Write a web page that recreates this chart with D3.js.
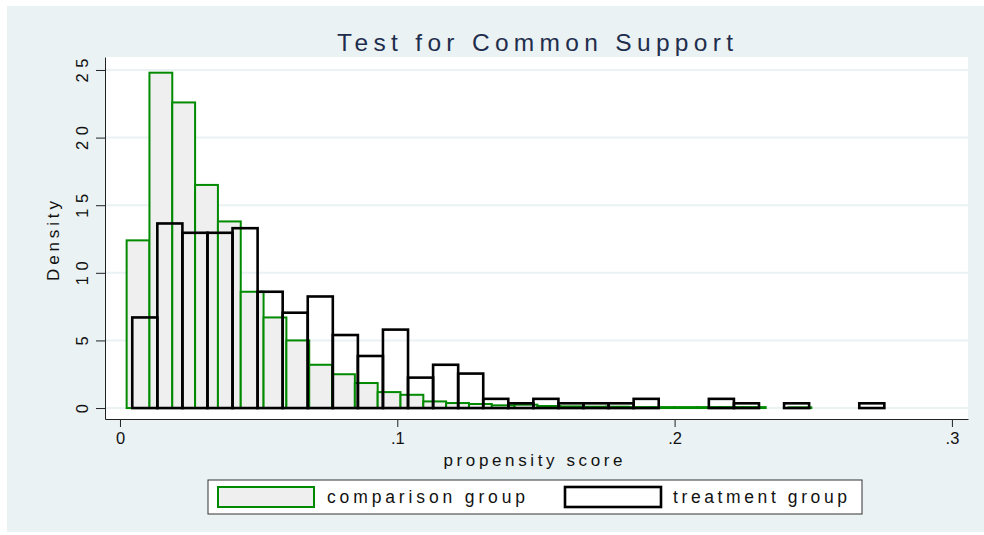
<!DOCTYPE html>
<html>
<head>
<meta charset="utf-8">
<script src="https://cdn.jsdelivr.net/npm/d3@7"></script>
<style>
  body { margin: 0; background: #fff; }
  text { font-family: "Liberation Sans", Arial, sans-serif; }
</style>
</head>
<body>
<svg id="chart" width="984" height="535"></svg>
<script>
// histogram bins (propensity score), densities
var compStart = 0.0024;
var compWidth = 0.00823;
var compDensity = [12.4, 24.8, 22.6, 16.5, 13.8, 8.6, 6.7, 5.0, 3.2, 2.5,
                   1.85, 1.18, 0.98, 0.49, 0.37, 0.3, 0.2, 0.25, 0.15, 0.12,
                   0.1, 0.1, 0.07, 0.07, 0.07, 0.07, 0.07, 0.07, 0, 0.05];

var treatStart = 0.00443;
var treatWidth = 0.00904;
var treatDensity = [6.7, 13.65, 12.96, 12.96, 13.3, 8.6, 7.05, 8.25, 5.4, 3.85,
                    5.8, 2.25, 3.2, 2.55, 0.68, 0.35, 0.68, 0.35, 0.35, 0.35,
                    0.68, 0, 0, 0.68, 0.35, 0, 0.35, 0, 0, 0.35];

var xTicks = [0, 0.1, 0.2, 0.3];
var xTickLabels = ["0", ".1", ".2", ".3"];
var yTicks = [0, 5, 10, 15, 20, 25];

var legendLabels = ["comparison group", "treatment group"];

var plot = {left: 105, right: 968, top: 57, bottom: 419};

var svg = d3.select("#chart");

// outer background
svg.append("rect")
  .attr("x", 7).attr("y", 6)
  .attr("width", 977).attr("height", 526)
  .attr("fill", "#eaf2f3");

svg.append("rect")
  .attr("x", plot.left).attr("y", plot.top)
  .attr("width", plot.right - plot.left)
  .attr("height", plot.bottom - plot.top)
  .attr("fill", "#fff");

var x = d3.scaleLinear().domain([-0.0054, 0.3058]).range([plot.left, plot.right]);
var y = d3.scaleLinear().domain([-0.81, 25.96]).range([plot.bottom, plot.top]);

// grid
svg.append("g").selectAll("line")
  .data(yTicks)
  .enter().append("line")
  .attr("x1", plot.left).attr("x2", plot.right)
  .attr("y1", d => y(d)).attr("y2", d => y(d))
  .attr("stroke", "#eaf2f3")
  .attr("stroke-width", 2);

function bins(start, width, vals) {
  return vals.map((v, i) => ({x0: start + i * width, x1: start + (i + 1) * width, v: v}))
    .filter(d => d.v > 0);
}

// comparison group bars
svg.append("g").selectAll("rect")
  .data(bins(compStart, compWidth, compDensity))
  .enter().append("rect")
  .attr("x", d => x(d.x0))
  .attr("width", d => x(d.x1) - x(d.x0))
  .attr("y", d => y(d.v))
  .attr("height", d => y(0) - y(d.v))
  .attr("fill", "#efefef")
  .attr("stroke", "#008a00")
  .attr("stroke-width", 2);

// treatment group bars
svg.append("g").selectAll("rect")
  .data(bins(treatStart, treatWidth, treatDensity))
  .enter().append("rect")
  .attr("x", d => x(d.x0))
  .attr("width", d => x(d.x1) - x(d.x0))
  .attr("y", d => y(d.v))
  .attr("height", d => y(0) - y(d.v))
  .attr("fill", "none")
  .attr("stroke", "#000")
  .attr("stroke-width", 2.6);

// axes
var xAxis = d3.axisBottom(x)
  .tickValues(xTicks)
  .tickFormat((d, i) => xTickLabels[i])
  .tickSize(8)
  .tickSizeOuter(0)
  .tickPadding(5);

var gx = svg.append("g")
  .attr("transform", "translate(0," + plot.bottom + ")")
  .call(xAxis);
gx.select(".domain").attr("stroke", "#222");
gx.selectAll(".tick line").attr("stroke", "#222");
gx.selectAll(".tick text")
  .attr("font-size", 16.5)
  .attr("fill", "#111")
  .attr("dy", "0.71em");

var yAxis = d3.axisLeft(y)
  .tickValues(yTicks)
  .tickSize(9)
  .tickSizeOuter(0)
  .tickFormat(d3.format("d"));

var gy = svg.append("g")
  .attr("transform", "translate(" + plot.left + ",0)")
  .call(yAxis);
gy.select(".domain").attr("stroke", "#222");
gy.selectAll(".tick line").attr("stroke", "#222");
gy.selectAll(".tick text").remove();
gy.selectAll(".tick").append("text")
  .attr("transform", "translate(-17,0) rotate(-90)")
  .attr("text-anchor", "middle")
  .attr("font-size", 16.5)
  .attr("fill", "#111")
  .attr("textLength", d => String(d).length > 1 ? 24 : null)
  .attr("lengthAdjust", "spacing")
  .text(d => d);

// titles
svg.append("text")
  .attr("x", 535).attr("y", 51)
  .attr("text-anchor", "middle")
  .attr("font-size", 24.5)
  .attr("fill", "#1f2d4d")
  .attr("textLength", 396)
  .attr("lengthAdjust", "spacing")
  .text("Test for Common Support");

svg.append("text")
  .attr("x", 533).attr("y", 466)
  .attr("text-anchor", "middle")
  .attr("font-size", 17)
  .attr("fill", "#111")
  .attr("textLength", 179)
  .attr("lengthAdjust", "spacing")
  .text("propensity score");

svg.append("text")
  .attr("transform", "translate(59,241) rotate(-90)")
  .attr("text-anchor", "middle")
  .attr("font-size", 17)
  .attr("fill", "#111")
  .attr("textLength", 80)
  .attr("lengthAdjust", "spacing")
  .text("Density");

// legend
var legend = svg.append("g");
legend.append("rect")
  .attr("x", 208).attr("y", 480)
  .attr("width", 654).attr("height", 34)
  .attr("fill", "#fff")
  .attr("stroke", "#333")
  .attr("stroke-width", 1);

var keys = [
  {x: 218, fill: "#efefef", stroke: "#008a00", sw: 2, tx: 327, tw: 198},
  {x: 565, fill: "#fff", stroke: "#000", sw: 2.6, tx: 673, tw: 174}
];
keys.forEach((k, i) => {
  legend.append("rect")
    .attr("x", k.x).attr("y", 487)
    .attr("width", 96).attr("height", 20)
    .attr("fill", k.fill)
    .attr("stroke", k.stroke)
    .attr("stroke-width", k.sw);
  legend.append("text")
    .attr("x", k.tx).attr("y", 503)
    .attr("font-size", 17.5)
    .attr("fill", "#111")
    .attr("textLength", k.tw)
    .attr("lengthAdjust", "spacing")
    .text(legendLabels[i]);
});
</script>
</body>
</html>
